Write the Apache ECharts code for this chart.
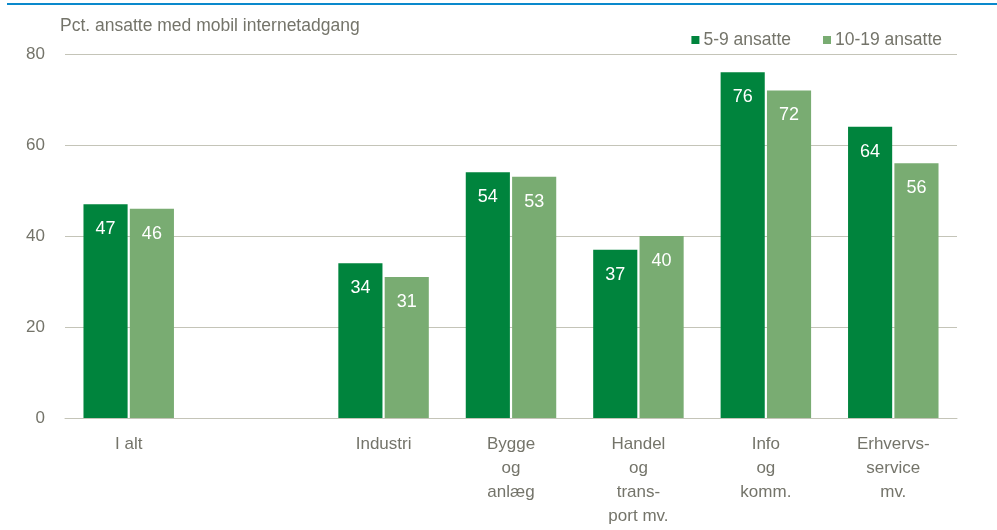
<!DOCTYPE html>
<html>
<head>
<meta charset="utf-8">
<script src="https://cdn.jsdelivr.net/npm/echarts@6/dist/echarts.min.js"></script>
<style>
  html, body { margin: 0; padding: 0; background: #fff; }
  #chart { width: 997px; height: 530px; }
</style>
</head>
<body>
<div id="chart"></div>
<script>
// Share of employees with mobile internet access, by industry and firm size
const categories = ['I alt', '', 'Industri', 'Bygge\nog\nanlæg', 'Handel\nog\ntrans-\nport mv.', 'Info\nog\nkomm.', 'Erhvervs-\nservice\nmv.'];
const seriesNames = ['5-9 ansatte', '10-19 ansatte'];
const small = [47, null, 34, 54, 37, 76, 64];
const medium = [46, null, 31, 53, 40, 72, 56];
const yTicks = { min: 0, max: 80, interval: 20 };

const FONT = '"Liberation Sans Narrow", "Arial Narrow", "Liberation Sans", Arial, sans-serif';
const TEXT = '#74746a';
const GRID = '#c4c4b8';
const colors = ['#00843d', '#79ac72'];

const chart = echarts.init(document.getElementById('chart'), null, { renderer: 'canvas' });

const labelStyle = {
  show: true,
  position: 'insideTop',
  distance: 16,
  color: '#ffffff',
  fontFamily: FONT,
  fontSize: 18
};

chart.setOption({
  animation: false,
  textStyle: { fontFamily: FONT },
  graphic: [
    { type: 'rect', left: 7, top: 3, shape: { width: 990, height: 2 }, style: { fill: '#0a89cc' } },
    { type: 'text', left: 60, top: 17, style: { text: 'Pct. ansatte med mobil internetadgang', fill: TEXT, font: '17.5px ' + FONT } }
  ],
  legend: {
    data: seriesNames,
    right: 50,
    top: 26,
    itemWidth: 8,
    itemHeight: 8,
    itemGap: 32,
    icon: 'rect',
    textStyle: { color: TEXT, fontSize: 17.5, fontFamily: FONT, padding: [0, 0, 0, -1] }
  },
  grid: { left: 65, right: 40, top: 54, bottom: 112 },
  xAxis: {
    type: 'category',
    data: categories,
    axisLine: { lineStyle: { color: GRID, width: 1 } },
    axisTick: { show: false },
    axisLabel: {
      interval: 0,
      color: TEXT,
      fontSize: 17,
      fontFamily: FONT,
      lineHeight: 24,
      margin: 14
    }
  },
  yAxis: {
    type: 'value',
    min: yTicks.min,
    max: yTicks.max,
    interval: yTicks.interval,
    axisLine: { show: false },
    axisTick: { show: false },
    splitLine: { lineStyle: { color: GRID, width: 1 } },
    axisLabel: { color: TEXT, fontSize: 17, fontFamily: FONT, margin: 20 }
  },
  series: [
    {
      name: seriesNames[0],
      type: 'bar',
      data: small,
      itemStyle: { color: colors[0] },
      barGap: '5%',
      barCategoryGap: '29%',
      label: labelStyle
    },
    {
      name: seriesNames[1],
      type: 'bar',
      data: medium,
      itemStyle: { color: colors[1] },
      barGap: '5%',
      barCategoryGap: '29%',
      label: labelStyle
    }
  ]
});
</script>
</body>
</html>
